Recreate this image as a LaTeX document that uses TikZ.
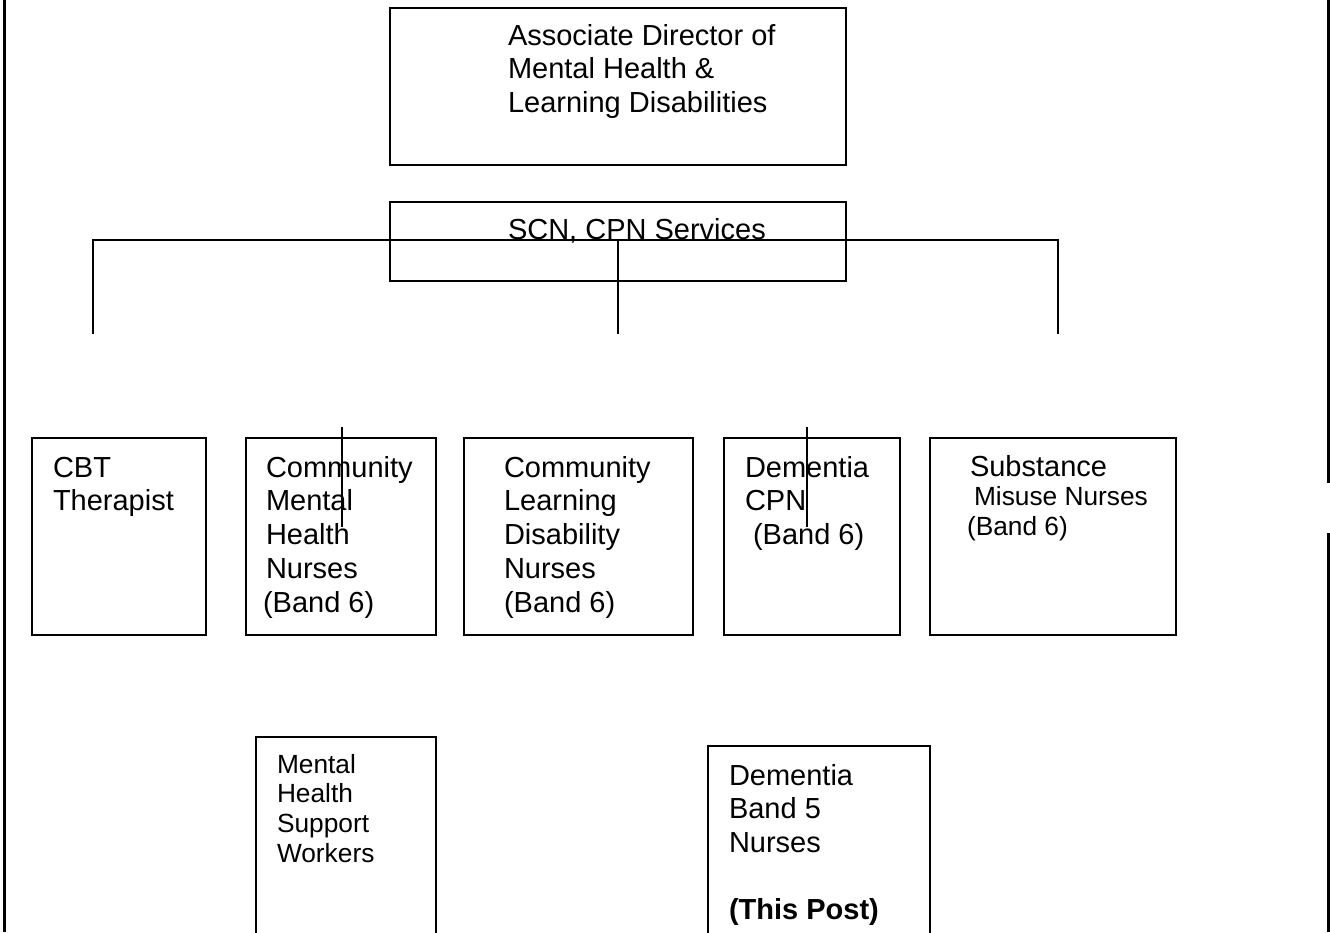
\documentclass[tikz,border=0pt]{standalone}
\usepackage{fontspec}
\setmainfont{Liberation Sans}
\newcommand\tlines[2]{\vtop{\baselineskip=#1\lineskiplimit=-100pt\lineskip=0pt\relax#2}}
\begin{document}
\begin{tikzpicture}[x=1pt,y=-1pt,
  box/.style={draw=black,line width=2pt,rectangle,inner sep=0pt,outer sep=0pt},
  txt/.style={anchor=base west,inner sep=0pt,outer sep=0pt,font=\fontsize{29pt}{33.5pt}\selectfont},
  smalltxt/.style={txt,font=\fontsize{26.3pt}{30pt}\selectfont},
  link/.style={draw=black,line width=2pt},
  border/.style={draw=black,line width=3pt}]
\useasboundingbox (0,0) rectangle (1330,932);
\fill[white] (0,0) rectangle (1330,932);

% page borders
\coordinate (bl1) at (4.5,0);
\coordinate (bl2) at (4.5,932);
\coordinate (br1) at (1328.5,0);
\coordinate (br2) at (1328.5,483);
\coordinate (br3) at (1328.5,533);
\coordinate (br4) at (1328.5,932);
\draw[border] (bl1) -- (bl2);
\draw[border,line width=2.5pt] (br1) -- (br2);
\draw[border,line width=2.5pt] (br3) -- (br4);

% boxes
\node[box,minimum width=456pt,minimum height=157pt] (top) at (618,86.5) {};
\node[box,minimum width=456pt,minimum height=79pt] (scn) at (618,241.5) {};
\node[box,minimum width=174pt,minimum height=197pt] (cbt) at (119,536.5) {};
\node[box,minimum width=190pt,minimum height=197pt] (cmhn) at (341,536.5) {};
\node[box,minimum width=229pt,minimum height=197pt] (cldn) at (578.5,536.5) {};
\node[box,minimum width=176pt,minimum height=197pt] (dcpn) at (812,536.5) {};
\node[box,minimum width=246pt,minimum height=197pt] (subs) at (1053,536.5) {};
\node[box,minimum width=180pt,minimum height=213pt] (mhsw) at (346,843.5) {};
\node[box,minimum width=222pt,minimum height=204pt] (db5) at (819,848) {};

% texts
\node[txt] (toptxt) at (508,45) {\tlines{33.5pt}{\hbox{Associate Director of}\hbox{Mental Health \&}\hbox{Learning Disabilities}}};
\node[txt] (scntxt) at (508,239) {SCN, CPN Services};
\node[txt] (cbttxt) at (53,477) {\tlines{33.5pt}{\hbox{CBT}\hbox{Therapist}}};
\node[txt] (cmhntxt) at (266,477) {\tlines{33.75pt}{\hbox{Community}\hbox{Mental}\hbox{Health}\hbox{Nurses}\hbox{\kern-3pt(Band 6)}}};
\node[txt] (cldntxt) at (504,477) {\tlines{33.75pt}{\hbox{Community}\hbox{Learning}\hbox{Disability}\hbox{Nurses}\hbox{(Band 6)}}};
\node[txt] (dcpntxt) at (745,477) {\tlines{33.75pt}{\hbox{Dementia}\hbox{CPN}\hbox{\kern8pt(Band 6)}}};
\node[txt] (substxt) at (970,476) {\tlines{29.5pt}{\hbox{Substance}\hbox{\fontsize{26.3pt}{30pt}\selectfont\kern4pt Misuse Nurses}\hbox{\fontsize{26.3pt}{30pt}\selectfont\kern-3pt(Band 6)}}};
\node[smalltxt] (mhswtxt) at (277,773) {\tlines{29.7pt}{\hbox{Mental}\hbox{Health}\hbox{Support}\hbox{Workers}}};
\node[txt] (db5txt) at (729,785) {\tlines{33.5pt}{\hbox{Dementia}\hbox{Band 5}\hbox{Nurses}\hbox{}\hbox{\bfseries(This Post)}}};

% connectors
\coordinate (jl) at (93,240);
\coordinate (jm) at (618,240);
\coordinate (jr) at (1058,240);
\coordinate (el) at (93,334);
\coordinate (em) at (618,334);
\coordinate (er) at (1058,334);
\draw[link] (el) -- (jl) -- (jr) -- (er);
\draw[link] (jm) -- (em);
\coordinate (s1a) at (342,427);
\coordinate (s1b) at (342,527);
\coordinate (s2a) at (807,427);
\coordinate (s2b) at (807,527);
\draw[link] (s1a) -- (s1b);
\draw[link] (s2a) -- (s2b);
\end{tikzpicture}
\end{document}
